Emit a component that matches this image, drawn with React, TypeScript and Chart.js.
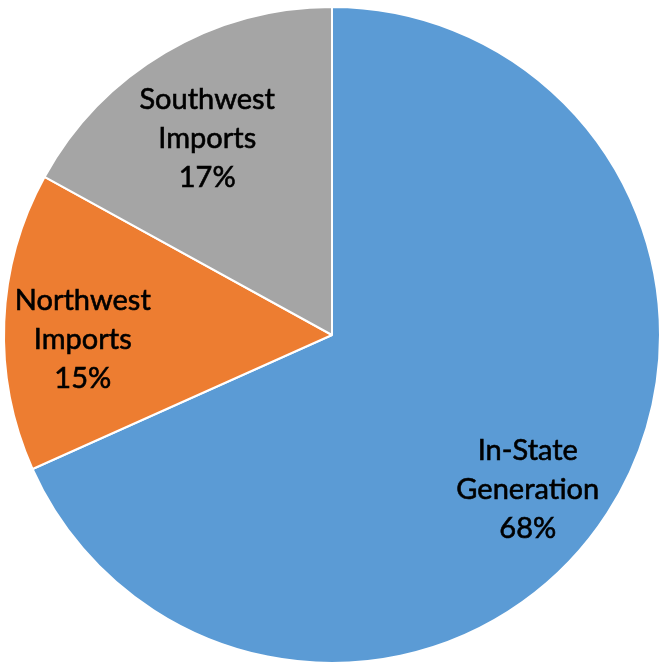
import React, { useEffect, useRef } from "react";
import { Chart, registerables } from "chart.js";

Chart.register(...registerables);

const categories: string[][] = [["In-State", "Generation"], ["Northwest", "Imports"], ["Southwest", "Imports"]];
const values: number[] = [68.3, 14.7, 17.0];
const percentLabels: string[] = ["68%", "15%", "17%"];
const colors: string[] = ["#5B9BD5", "#ED7D31", "#A5A5A5"];
const labelRadius: number[] = [0.76, 0.76, 0.71];
const labelAngleOffsetDeg: number[] = [5.3, -3.5, -1.8];

const labelPlugin = {
  id: "sliceLabels",
  afterDatasetsDraw(chart: any) {
    const ctx = chart.ctx;
    const meta = chart.getDatasetMeta(0);
    ctx.save();
    ctx.fillStyle = "#000000";
    ctx.strokeStyle = "#000000";
    ctx.lineWidth = 0.6;
    ctx.font = "29px Lato, 'Open Sans', sans-serif";
    ctx.textAlign = "center";
    ctx.textBaseline = "middle";
    const lineH = 39;
    meta.data.forEach((arc: any, i: number) => {
      const p = arc.getProps(["x", "y", "startAngle", "endAngle", "outerRadius"], true);
      const mid = (p.startAngle + p.endAngle) / 2 + (labelAngleOffsetDeg[i] * Math.PI) / 180;
      const r = p.outerRadius * labelRadius[i];
      const cx = p.x + Math.cos(mid) * r;
      const cy = p.y + Math.sin(mid) * r;
      const lines = [...categories[i], percentLabels[i]];
      const top = cy - ((lines.length - 1) * lineH) / 2;
      lines.forEach((t, k) => {
        ctx.fillText(t, cx, top + k * lineH);
        ctx.strokeText(t, cx, top + k * lineH);
      });
    });
    ctx.restore();
  },
};

export default function App() {
  const ref = useRef<HTMLCanvasElement | null>(null);
  useEffect(() => {
    document.body.style.margin = "0";
    const chart = new Chart(ref.current!, {
      type: "pie",
      data: {
        labels: categories.map((c) => c.join(" ")),
        datasets: [
          {
            data: values,
            backgroundColor: colors,
            borderColor: "#ffffff",
            borderWidth: 2,
          },
        ],
      },
      options: {
        responsive: false,
        animation: false,
        layout: { padding: { left: 3, right: 3, top: 6, bottom: 6 } },
        plugins: { legend: { display: false }, tooltip: { enabled: false } },
      },
      plugins: [labelPlugin],
    });
    return () => chart.destroy();
  }, []);
  return (
    <div style={{ position: "fixed", left: 0, top: 0, width: 659, height: 664, overflow: "hidden", background: "#fff" }}>
      <canvas ref={ref} width={664} height={670} style={{ display: "block" }} />
    </div>
  );
}
